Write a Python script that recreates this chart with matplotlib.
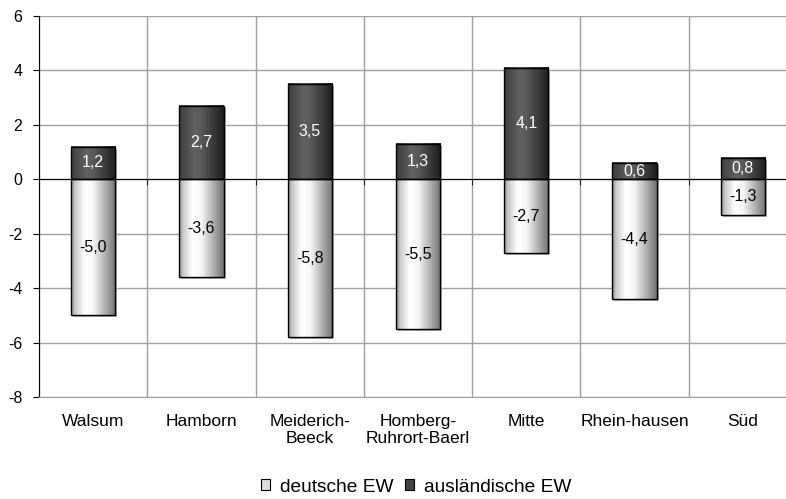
import numpy as np
import matplotlib
matplotlib.use('Agg')
import matplotlib.pyplot as plt
from matplotlib.patches import Rectangle
import matplotlib.transforms as mtransforms

plt.rcParams['font.family'] = ['Liberation Sans', 'DejaVu Sans']

districts = ['Walsum', 'Hamborn', 'Meiderich-\nBeeck', 'Homberg-\nRuhrort-Baerl', 'Mitte', 'Rhein-hausen', 'Süd']
deutsche = [-5.0, -3.6, -5.8, -5.5, -2.7, -4.4, -1.3]
auslaendische = [1.2, 2.7, 3.5, 1.3, 4.1, 0.6, 0.8]
y_ticks = [-8, -6, -4, -2, 0, 2, 4, 6]

# horizontal cylinder-like shading
xs = np.linspace(0, 1, 64)
light_grad = np.interp(xs, [0, 0.08, 0.3, 0.5, 1], [0.55, 0.78, 1.0, 0.96, 0.45])
dark_grad = np.interp(xs, [0, 0.35, 0.5, 1], [0.24, 0.38, 0.35, 0.12])

fig = plt.figure(figsize=(7.86, 4.99), dpi=100)
ax = fig.add_axes([39/786, 1 - 397/499, 758/786, 381/499])

bar_w = 0.41
shadow = mtransforms.offset_copy(ax.transData, fig=fig, x=2, y=-2, units='dots')

def draw_bar(x, val, grad):
    x0, x1 = x - bar_w/2, x + bar_w/2
    y0, y1 = min(0, val), max(0, val)
    ax.add_patch(Rectangle((x0, y0), bar_w, y1 - y0, facecolor='#b0b0b0', edgecolor='none',
                           transform=shadow, zorder=2))
    ax.imshow(grad[np.newaxis, :], extent=[x0, x1, y0, y1], aspect='auto', cmap='gray',
              vmin=0, vmax=1, zorder=3, interpolation='bilinear')
    ax.add_patch(Rectangle((x0, y0), bar_w, y1 - y0, facecolor='none', edgecolor='black',
                           linewidth=1.0, zorder=4))

for i in range(len(districts)):
    draw_bar(i, deutsche[i], light_grad)
    draw_bar(i, auslaendische[i], dark_grad)
    ax.text(i, deutsche[i]/2, ('%.1f' % deutsche[i]).replace('.', ','), ha='center', va='center',
            fontsize=11.5, color='black', zorder=5)
    ax.text(i, auslaendische[i]/2, ('%.1f' % auslaendische[i]).replace('.', ','), ha='center',
            va='center', fontsize=11.5, color='white', zorder=5)

ax.set_xlim(-0.5, len(districts) - 0.5)
ax.set_ylim(-8, 6)
ax.set_yticks(y_ticks)
ax.set_yticklabels([str(t) for t in y_ticks])
ax.set_xticks(range(len(districts)))
ax.set_xticklabels(districts, linespacing=1.2)
ax.set_xticks(np.arange(-0.5, len(districts), 1.0), minor=True)

ax.grid(axis='y', which='major', color='#a0a0a0', linewidth=1.0, zorder=0)
ax.grid(axis='x', which='minor', color='#a0a0a0', linewidth=1.0, zorder=0)
ax.set_axisbelow(True)

# category axis sits at zero
ax.spines['top'].set_position(('data', 0))
ax.spines['top'].set_color('black')
ax.spines['top'].set_zorder(4.5)
ax.spines['right'].set_visible(False)
ax.spines['bottom'].set_color('#a0a0a0')
ax.spines['left'].set_color('black')
ax.tick_params(axis='x', which='major', length=0, pad=12, bottom=True, top=False, labelsize=12.5)
ax.tick_params(axis='x', which='minor', length=4, direction='in', top=True, bottom=False,
               color='black')
ax.tick_params(axis='y', length=4, direction='out', color='black', pad=8, labelsize=11.5)

handles = [Rectangle((0, 0), 1, 1, facecolor='#dddddd', edgecolor='black', linewidth=0.8),
           Rectangle((0, 0), 1, 1, facecolor='#444444', edgecolor='black', linewidth=0.8)]
fig.legend(handles, ['deutsche EW', 'ausländische EW'], loc='center', bbox_to_anchor=(416/786, 1 - 487/499),
           ncol=2, frameon=False, fontsize=13.8, handlelength=0.5, handleheight=0.5,
           handletextpad=0.5, columnspacing=0.6, borderpad=0)

fig.savefig('out.png', dpi=100)
